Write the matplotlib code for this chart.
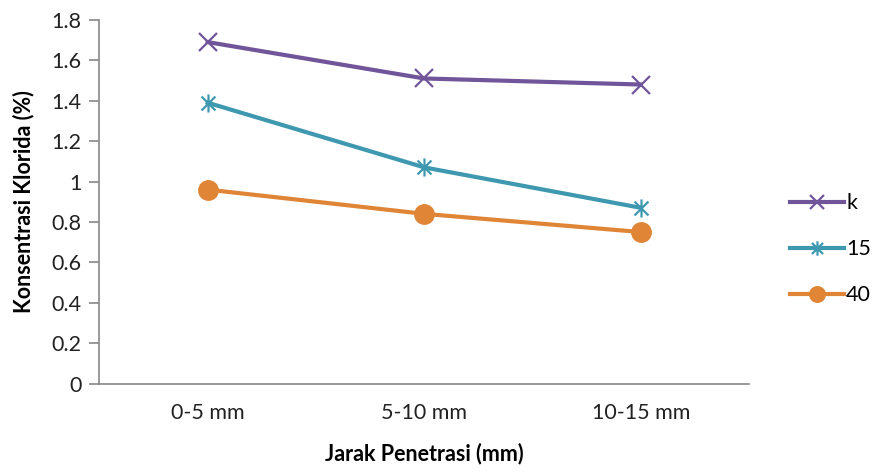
import matplotlib.pyplot as plt
from matplotlib.path import Path

# data
categories = ["0-5 mm", "5-10 mm", "10-15 mm"]
series_names = ["k", "15", "40"]
k_values = [1.69, 1.51, 1.48]
v15_values = [1.39, 1.07, 0.87]
v40_values = [0.96, 0.84, 0.75]
y_ticks = [0, 0.2, 0.4, 0.6, 0.8, 1, 1.2, 1.4, 1.6, 1.8]
y_tick_labels = ["0", "0.2", "0.4", "0.6", "0.8", "1", "1.2", "1.4", "1.6", "1.8"]

plt.rcParams['font.family'] = ['Lato', 'DejaVu Sans']

# asterisk marker (x plus vertical stroke), like Excel's star
star = Path([(-1, -1), (1, 1), (-1, 1), (1, -1), (0, -1.3), (0, 1.3)],
            [Path.MOVETO, Path.LINETO, Path.MOVETO, Path.LINETO, Path.MOVETO, Path.LINETO])

fig = plt.figure(figsize=(8.72, 4.73), dpi=100)
ax = fig.add_axes([0.114, 0.189, 0.745, 0.769])

x = range(len(categories))
ax.plot(x, k_values, color='#71559A', lw=3, marker='x', ms=13, mew=1.6, label=series_names[0])
ax.plot(x, v15_values, color='#3E98AF', lw=3, marker=star, ms=13, mew=1.6, label=series_names[1])
ax.plot(x, v40_values, color='#E08536', lw=3, marker='o', ms=14, label=series_names[2])

ax.set_xlim(-0.5, 2.5)
ax.set_ylim(0, 1.8)
ax.set_xticks(list(x))
ax.set_xticklabels(categories, fontsize=15.5, color='#222222')
ax.set_yticks(y_ticks)
ax.set_yticklabels(y_tick_labels, fontsize=15.5, color='#222222')
ax.tick_params(axis='x', length=0, pad=14)
ax.tick_params(axis='y', length=7, width=1.2, color='#888888', pad=6)

for s in ['top', 'right']:
    ax.spines[s].set_visible(False)
for s in ['left', 'bottom']:
    ax.spines[s].set_color('#888888')
    ax.spines[s].set_linewidth(1.2)

ax.set_xlabel("Jarak Penetrasi (mm)", fontsize=15.5, fontweight='bold', labelpad=14)
ax.set_ylabel("Konsentrasi Klorida (%)", fontsize=15.5, fontweight='bold', labelpad=12)

leg = fig.legend(loc='upper left', bbox_to_anchor=(0.884, 0.632), frameon=False,
                 fontsize=15.5, handlelength=2.5, handletextpad=0.1, labelspacing=1.2,
                 markerscale=0.8)

fig.savefig("out.png", dpi=100)
